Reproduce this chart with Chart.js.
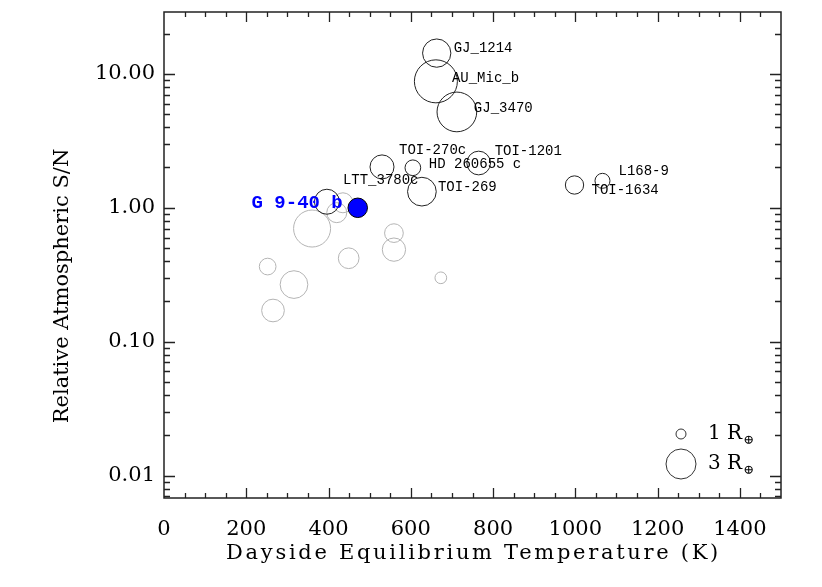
<!DOCTYPE html>
<html>
<head>
<meta charset="utf-8">
<script src="https://cdn.jsdelivr.net/npm/chart.js@4/dist/chart.umd.min.js"></script>
<style>
  html, body { margin: 0; padding: 0; background: #fff; }
  #wrap { width: 822px; height: 587px; }
</style>
</head>
<body>
<div id="wrap"><canvas id="snrChart" width="822" height="587"></canvas></div>
<script>
// labelled targets (black outlines)
const namedPlanets = ["GJ_1214", "AU_Mic_b", "GJ_3470", "TOI-270c", "HD 260655 c",
                      "TOI-1201", "TOI-269", "LTT_3780c", "TOI-1634", "L168-9"];
const namedTeq    = [663, 661, 712, 530, 605, 765, 627, 396, 998, 1066];
const namedSnr    = [14.3, 8.8, 5.2, 2.02, 1.99, 2.16, 1.32, 1.11, 1.48, 1.59];
const namedRadius = [2.83, 4.3, 3.97, 2.4, 1.57, 2.37, 2.87, 2.5, 1.83, 1.5]; // Earth radii

// highlighted target
const highlightName   = "G 9-40 b";
const highlightTeq    = 471;
const highlightSnr    = 1.0;
const highlightRadius = 1.95;

// other targets (gray, no labels)
const otherTeq    = [360, 435, 420, 559, 559, 449, 252, 316, 265, 673];
const otherSnr    = [0.70, 1.09, 0.92, 0.647, 0.487, 0.42, 0.364, 0.267, 0.171, 0.30];
const otherRadius = [3.7, 2.0, 2.0, 1.87, 2.33, 2.07, 1.67, 2.77, 2.27, 1.17];

// axes
const xTitle = "Dayside Equilibrium Temperature (K)";
const yTitle = "Relative Atmospheric S/N";
const xTickValues = [0, 200, 400, 600, 800, 1000, 1200, 1400];
const yTickValues = [0.01, 0.1, 1, 10];
const legendRadii = [1, 3];

// label offsets (px from bubble centre), styling only
const labelOffsets = [[17, -5], [16, -3], [17, -4], [17, -17], [16, -3],
                      [16, -12], [16, -4], [16, -21], [17, 5], [16, -10]];

const PX_PER_REARTH = 5;
const SERIF = "'DejaVu Serif', serif";
const MONO = "'Liberation Mono', monospace";

function toBubbles(teq, snr, rad) {
  return teq.map((t, i) => ({ x: t, y: snr[i], r: rad[i] * PX_PER_REARTH }));
}

// frame, inward ticks on all four sides, axis titles
const framePlugin = {
  id: "frame",
  afterDraw(chart) {
    const ctx = chart.ctx;
    const { left, right, top, bottom } = chart.chartArea;
    const xs = chart.scales.x, ys = chart.scales.y;
    ctx.save();
    ctx.strokeStyle = "#222";
    ctx.lineWidth = 1.3;
    ctx.beginPath();
    for (let v = 50; v < 1500; v += 50) {
      const px = Math.round(xs.getPixelForValue(v)) + 0.5;
      const len = v % 200 === 0 ? 10 : 5;
      ctx.moveTo(px, bottom); ctx.lineTo(px, bottom - len);
      ctx.moveTo(px, top); ctx.lineTo(px, top + len);
    }
    for (let e = -3; e <= 1; e++) {
      for (let m = 1; m <= 9; m++) {
        const v = m * Math.pow(10, e);
        if (v <= ys.min || v >= ys.max) continue;
        const py = Math.round(ys.getPixelForValue(v)) + 0.5;
        const len = m === 1 ? 11 : 6;
        ctx.moveTo(left, py); ctx.lineTo(left + len, py);
        ctx.moveTo(right, py); ctx.lineTo(right - len, py);
      }
    }
    ctx.stroke();
    ctx.lineWidth = 1.5;
    ctx.strokeRect(left, top, right - left, bottom - top);

    // axis titles
    ctx.fillStyle = "#000";
    ctx.font = "21px " + SERIF;
    ctx.textAlign = "center";
    ctx.textBaseline = "middle";
    ctx.letterSpacing = "2.7px";
    ctx.fillText(xTitle, (left + right) / 2 + 1, 554);
    ctx.letterSpacing = "0px";
    ctx.translate(63, 286);
    ctx.rotate(-Math.PI / 2);
    ctx.fillText(yTitle, 0, 0);
    ctx.restore();
  }
};

// planet names + radius legend
const labelPlugin = {
  id: "labels",
  afterDatasetsDraw(chart) {
    const ctx = chart.ctx;
    ctx.save();
    ctx.textBaseline = "middle";

    const hi = chart.getDatasetMeta(0).data[0];
    ctx.fillStyle = "#0000ff";
    ctx.font = "bold 19px " + MONO;
    ctx.textAlign = "right";
    ctx.fillText(highlightName, hi.x - 15, hi.y - 5);

    const named = chart.getDatasetMeta(1).data;
    ctx.fillStyle = "#000";
    ctx.font = "14px " + MONO;
    ctx.textAlign = "left";
    named.forEach((el, i) => {
      ctx.fillText(namedPlanets[i], el.x + labelOffsets[i][0], el.y + labelOffsets[i][1]);
    });

    // legend for bubble size
    const { right, bottom } = chart.chartArea;
    const cx = right - 100;
    const rows = [bottom - 64, bottom - 34];
    legendRadii.forEach((r, i) => {
      ctx.beginPath();
      ctx.strokeStyle = "#333";
      ctx.lineWidth = 1;
      ctx.arc(cx, rows[i], r * PX_PER_REARTH, 0, Math.PI * 2);
      ctx.stroke();
      ctx.fillStyle = "#000";
      ctx.font = "20px " + SERIF;
      ctx.textAlign = "left";
      const txt = r + " R";
      ctx.fillText(txt, cx + 27, rows[i]);
      const w = ctx.measureText(txt).width;
      ctx.font = "13px " + SERIF;
      ctx.fillText("\u2295", cx + 28 + w, rows[i] + 7);
    });
    ctx.restore();
  }
};

new Chart(document.getElementById("snrChart"), {
  type: "bubble",
  data: {
    datasets: [
      {
        label: highlightName,
        data: toBubbles([highlightTeq], [highlightSnr], [highlightRadius]),
        backgroundColor: "#0000ff",
        borderColor: "#000",
        borderWidth: 1
      },
      {
        label: "Labelled targets",
        data: toBubbles(namedTeq, namedSnr, namedRadius),
        backgroundColor: "rgba(0,0,0,0)",
        borderColor: "#222",
        borderWidth: 1
      },
      {
        label: "Other targets",
        data: toBubbles(otherTeq, otherSnr, otherRadius),
        backgroundColor: "rgba(0,0,0,0)",
        borderColor: "#b4b4b4",
        borderWidth: 1
      }
    ]
  },
  options: {
    responsive: false,
    animation: false,
    devicePixelRatio: 1,
    layout: { autoPadding: false, padding: { top: 12, right: 41, left: 0, bottom: 0 } },
    plugins: {
      legend: { display: false },
      tooltip: { enabled: false }
    },
    scales: {
      x: {
        type: "linear",
        min: 0,
        max: 1500,
        afterBuildTicks: s => { s.ticks = xTickValues.map(v => ({ value: v })); },
        afterFit: s => { s.height = 89; s.paddingLeft = 0; s.paddingRight = 0; },
        grid: { display: false, drawTicks: false },
        border: { display: false },
        ticks: {
          autoSkip: false,
          maxRotation: 0,
          padding: 19,
          color: "#000",
          font: { family: SERIF, size: 21 },
          callback: v => String(v)
        }
      },
      y: {
        type: "logarithmic",
        min: 0.0068,
        max: 29,
        afterBuildTicks: s => { s.ticks = yTickValues.map(v => ({ value: v })); },
        afterFit: s => { s.width = 164; s.paddingTop = 0; s.paddingBottom = 0; },
        grid: { display: false, drawTicks: false },
        border: { display: false },
        ticks: {
          padding: 9,
          color: "#000",
          font: { family: SERIF, size: 21 },
          callback: v => Number(v).toFixed(2)
        }
      }
    }
  },
  plugins: [framePlugin, labelPlugin]
});
</script>
</body>
</html>
